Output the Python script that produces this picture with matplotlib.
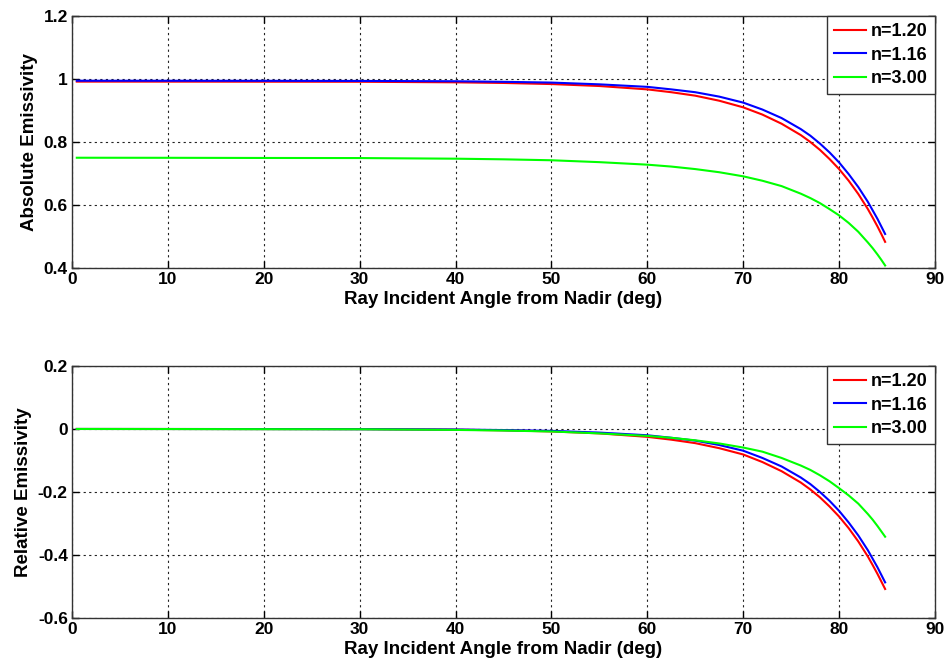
import matplotlib
matplotlib.use("Agg")
import matplotlib.pyplot as plt
import matplotlib.ticker as plticker

# incident angle (deg)
angle = [0.5, 10, 20, 30, 40, 45, 50, 55, 60, 62.5, 65, 67.5, 70,
         72, 74, 76, 77, 78, 79, 80, 81, 82, 83, 83.5, 84, 84.4, 84.8]

# absolute emissivity
abs_n120 = [0.9917, 0.9916, 0.9914, 0.9912, 0.9894, 0.9874, 0.9839, 0.9777,
            0.967, 0.958, 0.947, 0.931, 0.910,
            0.887, 0.858, 0.822, 0.800, 0.775, 0.746, 0.714, 0.677, 0.635,
            0.587, 0.560, 0.532, 0.508, 0.483]
abs_n116 = [0.9945, 0.9944, 0.9942, 0.9938, 0.9928, 0.991, 0.9886, 0.983,
            0.975, 0.967, 0.958, 0.944, 0.925,
            0.903, 0.876, 0.841, 0.820, 0.795, 0.767, 0.735, 0.698, 0.657,
            0.610, 0.583, 0.556, 0.532, 0.508]
abs_n300 = [0.750, 0.7498, 0.7493, 0.749, 0.747, 0.745, 0.742, 0.736,
            0.728, 0.722, 0.714, 0.704, 0.691,
            0.677, 0.660, 0.636, 0.622, 0.606, 0.587, 0.567, 0.543, 0.515,
            0.481, 0.463, 0.443, 0.426, 0.408]

# relative emissivity
rel_n120 = [0.0, -0.0001, -0.0003, -0.0005, -0.0023, -0.0043, -0.0078, -0.014,
            -0.025, -0.034, -0.045, -0.061, -0.081,
            -0.105, -0.134, -0.170, -0.192, -0.217, -0.246, -0.278, -0.315,
            -0.357, -0.405, -0.432, -0.460, -0.484, -0.508]
rel_n116 = [0.0, -0.0001, -0.0003, -0.0007, -0.0017, -0.0035, -0.006, -0.0115,
            -0.020, -0.028, -0.037, -0.051, -0.069,
            -0.092, -0.119, -0.154, -0.175, -0.200, -0.228, -0.260, -0.297,
            -0.338, -0.385, -0.412, -0.439, -0.463, -0.487]
rel_n300 = [0.0, -0.0002, -0.0007, -0.001, -0.003, -0.005, -0.008, -0.014,
            -0.022, -0.028, -0.036, -0.046, -0.059,
            -0.072, -0.092, -0.116, -0.130, -0.147, -0.166, -0.188, -0.211,
            -0.237, -0.270, -0.288, -0.308, -0.325, -0.342]

labels = ['n=1.20', 'n=1.16', 'n=3.00']
colors = ['#ff0000', '#0000ff', '#00ff00']

plt.rcParams['font.family'] = ['Liberation Sans', 'DejaVu Sans']
plt.rcParams['font.weight'] = 'bold'
plt.rcParams['axes.labelweight'] = 'bold'

fig = plt.figure(figsize=(9.5, 6.66), dpi=100)
ax1 = fig.add_axes([0.0758, 0.5976, 0.9084, 0.3784])
ax2 = fig.add_axes([0.0758, 0.0721, 0.9084, 0.3784])


def style(ax, ylim, yticks, ylabels):
    ax.set_xlim(0, 90)
    ax.set_ylim(*ylim)
    ax.xaxis.set_major_locator(plticker.MultipleLocator(10))
    ax.set_yticks(yticks)
    ax.set_yticklabels(ylabels)
    ax.grid(True, linestyle=(0, (2, 3)), color='#222222', linewidth=0.8)
    ax.tick_params(direction='in', top=True, right=True, labelsize=12.5,
                   length=5, width=1, pad=3)
    for sp in ax.spines.values():
        sp.set_linewidth(1.0)
        sp.set_color('#333333')
    ax.set_xlabel('Ray Incident Angle from Nadir (deg)', fontsize=13.5,
                  labelpad=3)
    leg = ax.legend(loc='upper right', fontsize=13, fancybox=False,
                    framealpha=1, edgecolor='#333333', borderaxespad=0,
                    handlelength=1.8, handletextpad=0.25, labelspacing=0.35,
                    borderpad=0.4)
    leg.get_frame().set_linewidth(1.0)


for ys, lab, c in zip([abs_n120, abs_n116, abs_n300], labels, colors):
    ax1.plot(angle, ys, color=c, linewidth=1.5, label=lab)
ax1.set_ylabel('Absolute Emissivity', fontsize=13.5, labelpad=4)
style(ax1, (0.4, 1.2), [0.4, 0.6, 0.8, 1.0, 1.2],
      ['0.4', '0.6', '0.8', '1', '1.2'])

for ys, lab, c in zip([rel_n120, rel_n116, rel_n300], labels, colors):
    ax2.plot(angle, ys, color=c, linewidth=1.5, label=lab)
ax2.set_ylabel('Relative Emissivity', fontsize=13.5, labelpad=4)
style(ax2, (-0.6, 0.2), [-0.6, -0.4, -0.2, 0.0, 0.2],
      ['-0.6', '-0.4', '-0.2', '0', '0.2'])

fig.savefig('out.png', dpi=100)
